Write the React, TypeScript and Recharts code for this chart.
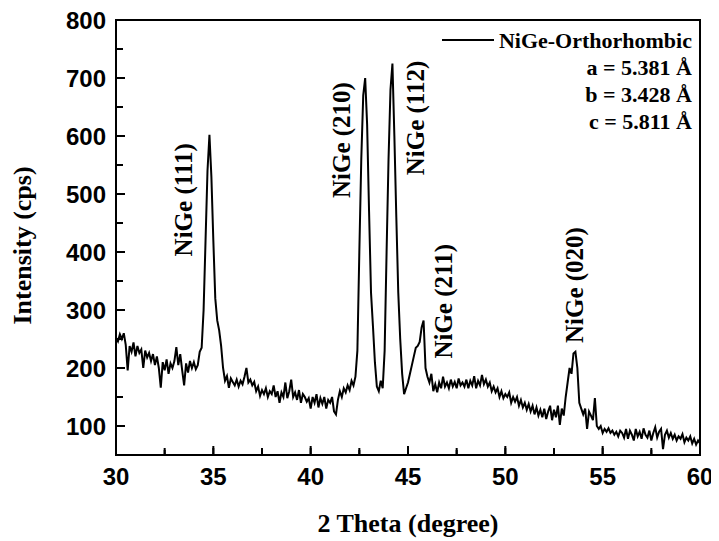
import React from 'react'
import {
  LineChart,
  Line,
  XAxis,
  YAxis,
  ReferenceArea,
  ReferenceDot,
  Legend,
} from 'recharts'

// Scan grid: 30°–60° in 0.1° steps
const THETA_START = 30
const THETA_STEP = 0.1

// Intensity (cps), one row per degree
const intensity = [
  252, 246, 258, 250, 260, 240, 196, 238, 228, 244, // 30
  220, 238, 226, 232, 200, 230, 218, 226, 212, 224, // 31
  205, 220, 200, 166, 210, 196, 215, 190, 208, 200, // 32
  212, 236, 205, 224, 196, 170, 208, 192, 212, 200, // 33
  210, 198, 205, 228, 235, 300, 420, 540, 602, 530, // 34
  420, 320, 282, 265, 238, 200, 178, 186, 166, 182, // 35
  176, 170, 180, 168, 178, 172, 185, 200, 175, 180, // 36
  170, 176, 160, 168, 152, 162, 155, 165, 150, 160, // 37
  155, 170, 150, 160, 140, 158, 150, 175, 148, 160, // 38
  180, 150, 158, 145, 162, 140, 155, 150, 142, 148, // 39
  130, 150, 140, 155, 132, 148, 138, 150, 130, 145, // 40
  140, 150, 125, 120, 145, 160, 150, 165, 158, 170, // 41
  162, 178, 170, 185, 230, 400, 560, 670, 700, 620, // 42
  470, 330, 272, 210, 168, 160, 178, 165, 230, 400, // 43
  560, 680, 725, 600, 460, 330, 250, 190, 155, 165, // 44
  175, 190, 205, 220, 235, 238, 245, 270, 282, 200, // 45
  185, 175, 190, 160, 172, 158, 175, 165, 185, 168, // 46
  175, 165, 180, 168, 176, 165, 182, 170, 175, 168, // 47
  180, 165, 178, 170, 186, 165, 178, 170, 188, 172, // 48
  180, 168, 175, 160, 168, 158, 165, 150, 160, 148, // 49
  155, 150, 158, 140, 150, 142, 150, 135, 145, 132, // 50
  140, 128, 138, 125, 135, 120, 132, 118, 128, 115, // 51
  130, 112, 125, 135, 110, 128, 115, 135, 102, 130, // 52
  118, 150, 175, 200, 190, 225, 228, 200, 140, 130, // 53
  120, 130, 95, 125, 118, 110, 148, 100, 95, 100, // 54
  88, 95, 90, 96, 88, 92, 85, 90, 82, 92, // 55
  88, 80, 95, 78, 92, 85, 75, 95, 82, 90, // 56
  78, 96, 85, 80, 92, 75, 88, 98, 80, 90, // 57
  95, 60, 85, 92, 80, 88, 78, 85, 75, 82, // 58
  78, 86, 72, 80, 75, 82, 70, 78, 68, 75, // 59
  70, // 60
]

const xTicks = [30, 32.5, 35, 37.5, 40, 42.5, 45, 47.5, 50, 52.5, 55, 57.5, 60]
const yTicks = [100, 150, 200, 250, 300, 350, 400, 450, 500, 550, 600, 650, 700, 750, 800]

// Reflection labels, anchored in data units (baseline theta, centre intensity)
const peakLabels = [
  { text: 'NiGe (111)', theta: 33.89, at: 490 },
  { text: 'NiGe (210)', theta: 42.02, at: 593 },
  { text: 'NiGe (112)', theta: 45.83, at: 631 },
  { text: 'NiGe (211)', theta: 47.27, at: 315 },
  { text: 'NiGe (020)', theta: 54.01, at: 343 },
]

const phaseName = 'NiGe-Orthorhombic'
const latticeNames = ['a', 'b', 'c']
const latticeValues = [5.381, 3.428, 5.811]

const data = intensity.map((v, i) => ({
  theta: +(THETA_START + i * THETA_STEP).toFixed(1),
  intensity: v,
}))

const X_DOMAIN: [number, number] = [30, 60]
const Y_DOMAIN: [number, number] = [50, 800]

const MARGIN = { top: 20, right: 19, left: 56, bottom: 56 }

const SANS = '"Liberation Sans", Arial, sans-serif'
const SERIF = '"Liberation Serif", "Times New Roman", serif'

const isMajorX = (v: number) => v % 5 === 0
const isMajorY = (v: number) => v % 100 === 0

const YTick = (props: any) => {
  const { x, y, payload } = props
  if (!isMajorY(payload.value)) return <g />
  return (
    <text x={x} y={y} dy="0.36em" textAnchor="end" fontFamily={SANS} fontWeight="bold" fontSize={24} fill="#000">
      {payload.value}
    </text>
  )
}

const XTick = (props: any) => {
  const { x, y, payload } = props
  if (!isMajorX(payload.value)) return <g />
  return (
    <text x={x} y={y} dy="0.74em" textAnchor="middle" fontFamily={SANS} fontWeight="bold" fontSize={24} fill="#000">
      {payload.value}
    </text>
  )
}

// inward tick marks
const XMark = (major: boolean) => (props: any) => {
  const { cx, cy } = props
  const len = major ? 9 : 5
  return <rect x={cx - 1} y={cy - len} width={2} height={len} fill="#000" />
}

const YMark = (major: boolean) => (props: any) => {
  const { cx, cy } = props
  return <rect x={cx} y={cy - 1} width={major ? 9 : 5} height={2} fill="#000" />
}

const Frame = (props: any) => {
  const { x, y, width, height } = props
  return <rect x={x} y={y} width={width} height={height} fill="none" stroke="#000" strokeWidth={2} />
}

const YTitle = (props: any) => {
  const { viewBox } = props
  const x = viewBox.x - 25
  const y = viewBox.y + viewBox.height / 2 + 8
  return (
    <text
      x={x}
      y={y}
      transform={`rotate(-90, ${x}, ${y})`}
      textAnchor="middle"
      fontFamily={SERIF}
      fontWeight="bold"
      fontSize={26}
      fill="#000"
    >
      Intensity (cps)
    </text>
  )
}

const PeakLabel = (text: string) => (props: any) => {
  const { cx, cy } = props
  return (
    <text
      x={cx}
      y={cy}
      transform={`rotate(-90, ${cx}, ${cy})`}
      textAnchor="middle"
      fontFamily={SERIF}
      fontWeight="bold"
      fontSize={25}
      fill="#000"
    >
      {text}
    </text>
  )
}

const PhaseLegend = () => (
  <div
    style={{
      fontFamily: SERIF,
      fontWeight: 'bold',
      fontSize: 22,
      lineHeight: '27px',
      textAlign: 'right',
      color: '#000',
      whiteSpace: 'nowrap',
    }}
  >
    <div>
      <span
        style={{
          display: 'inline-block',
          width: 52,
          borderTop: '2px solid #000',
          marginRight: 5,
          position: 'relative',
          top: -7,
        }}
      />
      {phaseName}
    </div>
    {latticeNames.map((n, i) => (
      <div key={n}>{`${n} = ${latticeValues[i].toFixed(3)} Å`}</div>
    ))}
  </div>
)

export default function App() {
  return (
    <div style={{ margin: '-8px 0 0 -8px' }}>
      <LineChart width={719} height={541} data={data} margin={MARGIN}>
        <XAxis
          dataKey="theta"
          type="number"
          domain={X_DOMAIN}
          ticks={xTicks}
          interval={0}
          height={30}
          stroke="#000"
          strokeWidth={2}
          tickSize={-7}
          tickMargin={19}
          tick={<XTick />}
          label={{
            value: '2 Theta (degree)',
            position: 'insideBottom',
            offset: -47,
            style: { fontFamily: SERIF, fontWeight: 'bold', fontSize: 26, fill: '#000' },
          }}
        />
        <YAxis
          type="number"
          domain={Y_DOMAIN}
          ticks={yTicks}
          interval={0}
          width={60}
          stroke="#000"
          strokeWidth={2}
          tickSize={-7}
          tickMargin={17}
          tick={<YTick />}
          label={{ content: <YTitle /> }}
        />
        <ReferenceArea x1={X_DOMAIN[0]} x2={X_DOMAIN[1]} y1={Y_DOMAIN[0]} y2={Y_DOMAIN[1]} shape={<Frame />} ifOverflow="visible" />
        {xTicks.map((t) => (
          <ReferenceDot key={`xm${t}`} x={t} y={Y_DOMAIN[0]} r={0} shape={XMark(isMajorX(t))} ifOverflow="visible" />
        ))}
        {yTicks.map((t) => (
          <ReferenceDot key={`ym${t}`} x={X_DOMAIN[0]} y={t} r={0} shape={YMark(isMajorY(t))} ifOverflow="visible" />
        ))}
        {peakLabels.map((p) => (
          <ReferenceDot
            key={p.text}
            x={p.theta}
            y={p.at}
            r={0}
            shape={PeakLabel(p.text)}
            ifOverflow="visible"
          />
        ))}
        <Line
          type="linear"
          dataKey="intensity"
          stroke="#000"
          strokeWidth={2}
          dot={false}
          activeDot={false}
          isAnimationActive={false}
        />
        <Legend
          layout="vertical"
          align="center"
          verticalAlign="middle"
          content={<PhaseLegend />}
          wrapperStyle={{ top: 27, right: 27, left: 'auto', width: 'auto' }}
        />
      </LineChart>
    </div>
  )
}
